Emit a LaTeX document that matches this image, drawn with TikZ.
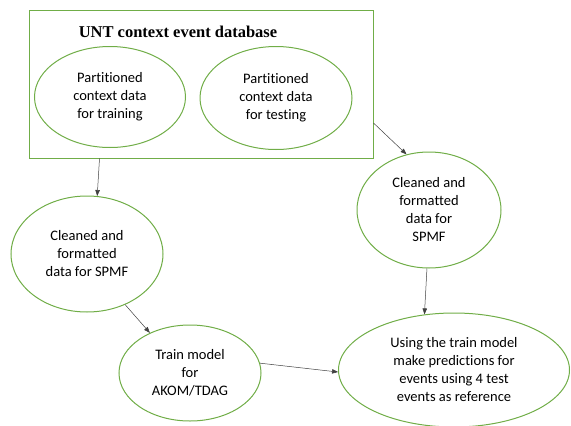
\documentclass[tikz,border=0pt]{standalone}
\usepackage{fontspec}
\setmainfont[Ligatures=NoCommon]{Carlito}
\newfontfamily\titlefont{Liberation Serif}
\usepackage{xcolor}
\usetikzlibrary{shapes.geometric, arrows.meta, positioning}
\definecolor{boxgreen}{RGB}{112,173,71}

\begin{document}
\begin{tikzpicture}[x=1pt, y=-1pt, >={Triangle[length=6pt,width=4.5pt]},
  stage/.style={ellipse, draw=boxgreen, line width=1pt, inner sep=0pt,
    align=center, font=\fontsize{14.5}{18}\selectfont},
  flow/.style={->, draw=black!75, line width=0.5pt}]
  \useasboundingbox (0,0) rectangle (571,426);

  % Database box
  \node[draw=boxgreen, line width=1pt, minimum width=344pt, minimum height=148pt,
    inner sep=0pt] (db) at (201,84) {};
  \node[font=\titlefont\bfseries\fontsize{16.5}{18}\selectfont] (dbtitle) at (178,32)
    {UNT context event database};

  % Partitions
  \node[stage, minimum width=151pt, minimum height=101pt] (train) at (110,97)
    {Partitioned\\context data\\for training};
  \node[stage, minimum width=152pt, minimum height=103pt] (test) at (276,98)
    {Partitioned\\context data\\for testing};

  % Cleaned data
  \node[stage, minimum width=152pt, minimum height=116pt] (cleanA) at (87,254)
    {Cleaned and\\formatted\\data for SPMF};
  \node[stage, minimum width=144pt, minimum height=116pt] (cleanB) at (429,210)
    {Cleaned and\\formatted\\data for\\SPMF};

  % Model and prediction
  \node[stage, minimum width=142pt, minimum height=96pt] (model) at (190,373)
    {Train model\\for\\AKOM/TDAG};
  \node[stage, minimum width=231pt, minimum height=114pt] (predict) at (454,370)
    {Using the train model\\make predictions for\\events using 4 test\\events as reference};

  % Arrows
  \draw[flow] ([xshift=71pt]db.south west) -- (cleanA.80);
  \draw[flow] ([yshift=-39pt]db.east) -- (cleanB.112);
  \draw[flow] (cleanA.-53) -- (model.135);
  \draw[flow] (model.8) -- (predict.181);
  \draw[flow] (cleanB.268) -- (predict.118);
\end{tikzpicture}
\end{document}
